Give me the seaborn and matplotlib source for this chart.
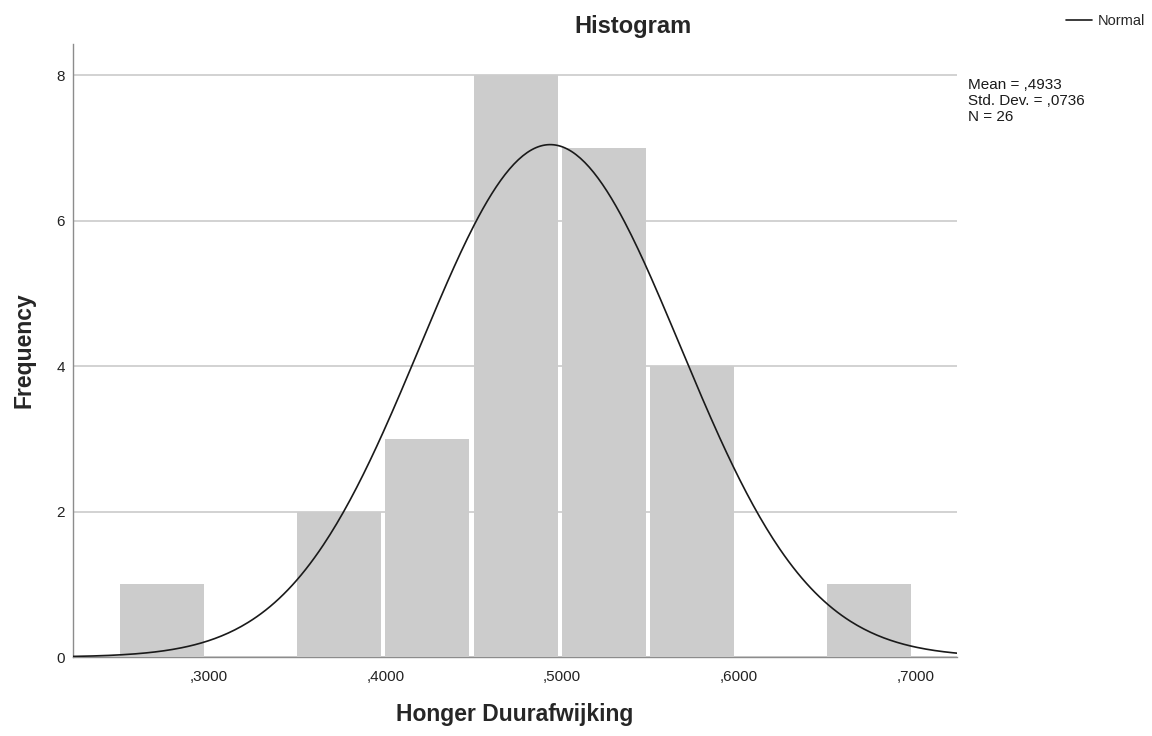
import numpy as np
import matplotlib
matplotlib.use("Agg")
import matplotlib.pyplot as plt
from matplotlib.ticker import FuncFormatter
import seaborn as sns

# histogram bins (left edges, width 0.05) and frequencies
bin_left = [0.25, 0.30, 0.35, 0.40, 0.45, 0.50, 0.55, 0.60, 0.65]
counts = [1, 0, 2, 3, 8, 7, 4, 0, 1]
bin_width = 0.05

# summary statistics shown beside the chart
mean = 0.4933
std_dev = 0.0736
n_obs = 26

x_ticks = [0.30, 0.40, 0.50, 0.60, 0.70]
y_ticks = [0, 2, 4, 6, 8]


def spss_num(v):
    # ,4933 style (no leading zero, comma decimal)
    return f"{v:.4f}"[1:].replace(".", ",")


sns.set_theme(style="white")
plt.rcParams["font.family"] = ["Liberation Sans", "DejaVu Sans"]

fig = plt.figure(figsize=(11.52, 7.36), dpi=100)
ax = fig.add_axes([0.0634, 0.1073, 0.8307 - 0.0634, 0.9402 - 0.1073])

edges = bin_left + [bin_left[-1] + bin_width]
mids = [b + bin_width / 2 for b in bin_left]
sns.histplot(x=mids, weights=counts, bins=edges, ax=ax,
             color="#cccccc", alpha=1.0, linewidth=0, zorder=2)
# SPSS leaves a small white gap on the right side of each bar
for p in ax.patches:
    p.set_width(p.get_width() - 0.0025)

# fitted normal curve scaled to counts
xlim = (0.2234, 0.7234)
xs = np.linspace(xlim[0], xlim[1], 400)
ys = n_obs * bin_width / (std_dev * np.sqrt(2 * np.pi)) * np.exp(-0.5 * ((xs - mean) / std_dev) ** 2)
sns.lineplot(x=xs, y=ys, ax=ax, color="#1a1a1a", linewidth=1.2, label="Normal", zorder=3)

ax.set_xlim(*xlim)
ax.set_ylim(0, 8.43)
ax.set_xticks(x_ticks)
ax.set_yticks(y_ticks)
ax.xaxis.set_major_formatter(FuncFormatter(lambda v, _: spss_num(v)))
ax.yaxis.set_major_formatter(FuncFormatter(lambda v, _: f"{int(v)}"))
ax.tick_params(axis="both", length=0, labelsize=11, labelcolor="#222222")
ax.tick_params(axis="x", pad=9)
ax.tick_params(axis="y", pad=6)

ax.set_axisbelow(True)
ax.yaxis.grid(True, color="#d2d2d2", linewidth=1.4)
ax.xaxis.grid(False)
for side in ("top", "right"):
    ax.spines[side].set_visible(False)
for side in ("left", "bottom"):
    ax.spines[side].set_color("#8c8c8c")
    ax.spines[side].set_linewidth(1.0)
ax.spines["bottom"].set_zorder(1.5)

ax.set_xlabel("Honger Duurafwijking", fontsize=16.5, fontweight="bold", labelpad=14)
ax.set_ylabel("Frequency", fontsize=16.5, fontweight="bold", labelpad=15)

fig.text(633 / 1152, 1 - 33 / 736, "Histogram", ha="center", va="baseline",
         fontsize=17, fontweight="bold")

ax.get_legend().remove()
handles, labels = ax.get_legend_handles_labels()
fig.legend(handles, labels, loc="center left", bbox_to_anchor=(1066 / 1152, 1 - 21 / 736),
           frameon=False, fontsize=10.5, handlelength=1.8, handletextpad=0.35,
           borderpad=0, borderaxespad=0)

stats = f"Mean = {spss_num(mean)}\nStd. Dev. = {spss_num(std_dev)}\nN = {n_obs}"
fig.text(968 / 1152, 1 - 78 / 736, stats, ha="left", va="top",
         fontsize=11, linespacing=1.17, color="#1a1a1a")

fig.savefig("out.png", dpi=100)
